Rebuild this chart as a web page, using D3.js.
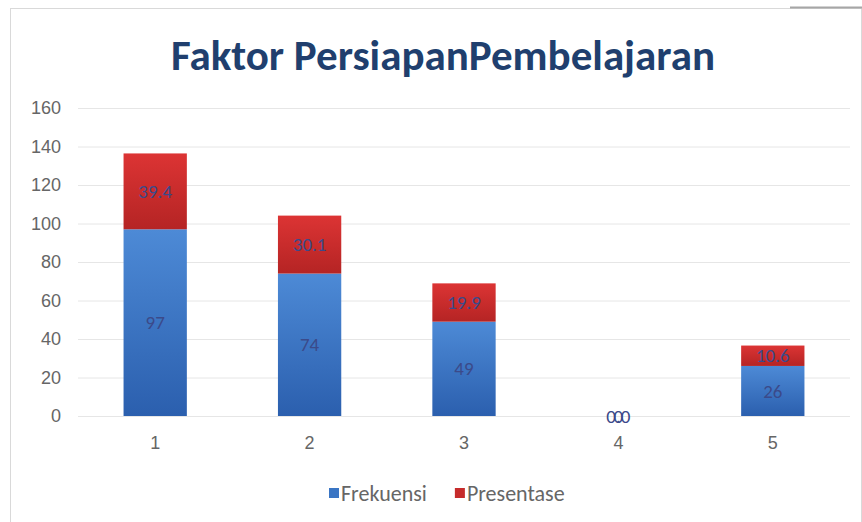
<!DOCTYPE html>
<html>
<head>
<meta charset="utf-8">
<script src="https://cdn.jsdelivr.net/npm/d3@7.9.0/dist/d3.min.js"></script>
<style>
  body { margin: 0; background: #fff; }
  svg { display: block; font-family: Carlito, Lato, "Open Sans", "Liberation Sans", sans-serif; }
</style>
</head>
<body>
<svg width="862" height="522"></svg>
<script>
// chart data
const categories = ['1', '2', '3', '4', '5'];
const frekuensi = [97, 74, 49, 0, 26];
const presentase = [39.4, 30.1, 19.9, 0.0, 10.6];
const yTicks = [0, 20, 40, 60, 80, 100, 120, 140, 160];
const seriesNames = ['Frekuensi', 'Presentase'];

const svg = d3.select('svg');
const margin = { top: 108, right: 12, bottom: 106, left: 78 };
const width = 862 - margin.left - margin.right;
const height = 522 - margin.top - margin.bottom;

// outer frame
svg.append('rect')
    .attr('x', 10.5).attr('y', 8.5)
    .attr('width', 851).attr('height', 520)
    .attr('fill', '#fff')
    .attr('stroke', '#d9d9d9');
// little shadow at top right corner
svg.append('line')
    .attr('x1', 790).attr('x2', 862).attr('y1', 7.5).attr('y2', 7.5)
    .attr('stroke', '#a6a6a6').attr('stroke-width', 2);

// gradients for bars
const defs = svg.append('defs');
function gradient(id, top, bottom) {
    const g = defs.append('linearGradient')
        .attr('id', id).attr('x1', 0).attr('y1', 0).attr('x2', 0).attr('y2', 1);
    g.append('stop').attr('offset', '0%').attr('stop-color', top);
    g.append('stop').attr('offset', '100%').attr('stop-color', bottom);
}
gradient('gBlue', '#4d8ad6', '#2b5fae');
gradient('gRed', '#dc3434', '#b52424');

const g = svg.append('g').attr('transform', `translate(${margin.left},${margin.top})`);

const x = d3.scaleBand().domain(categories).range([0, width]).paddingInner(0.59).paddingOuter(0.295);
const y = d3.scaleLinear().domain([0, 160]).range([height, 0]);

// gridlines
g.selectAll('.grid')
    .data(yTicks)
    .join('line')
    .attr('class', 'grid')
    .attr('x1', 0).attr('x2', width)
    .attr('y1', d => y(d) + 0.5).attr('y2', d => y(d) + 0.5)
    .attr('stroke', '#e6e6e6');

// y axis labels
const yAxis = d3.axisLeft(y).tickValues(yTicks).tickSize(0).tickPadding(17);
g.append('g').call(yAxis)
    .call(s => s.select('.domain').remove())
    .selectAll('text')
    .attr('fill', '#666')
    .style('font-family', 'inherit')
    .style('font-size', '18px');

// x axis labels
const xAxis = d3.axisBottom(x).tickSize(0).tickPadding(20);
g.append('g').attr('transform', `translate(0,${height})`).call(xAxis)
    .call(s => s.select('.domain').remove())
    .selectAll('text')
    .attr('fill', '#666')
    .style('font-family', 'inherit')
    .style('font-size', '18px');

// stacked data
const rows = categories.map((c, i) => ({ cat: c, Frekuensi: frekuensi[i], Presentase: presentase[i] }));
const stack = d3.stack().keys(seriesNames)(rows);
const fills = { Frekuensi: 'url(#gBlue)', Presentase: 'url(#gRed)' };

stack.forEach(layer => {
    g.selectAll(`.bar-${layer.key}`)
        .data(layer)
        .join('rect')
        .attr('class', `bar-${layer.key}`)
        .attr('x', d => x(d.data.cat))
        .attr('width', x.bandwidth())
        .attr('y', d => y(d[1]))
        .attr('height', d => y(d[0]) - y(d[1]))
        .attr('fill', fills[layer.key]);

    g.selectAll(`.lbl-${layer.key}`)
        .data(layer)
        .join('text')
        .attr('class', `lbl-${layer.key}`)
        .attr('x', d => x(d.data.cat) + x.bandwidth() / 2)
        .attr('y', d => (y(d[0]) + y(d[1])) / 2)
        .attr('dy', '0.35em')
        .attr('text-anchor', 'middle')
        .attr('fill', '#3b4a8a')
        .style('font-size', '19px')
        .text(d => layer.key === 'Presentase' ? d.data[layer.key].toFixed(1) : d.data[layer.key]);
});

// title
svg.append('text')
    .attr('x', 443).attr('y', 70)
    .attr('text-anchor', 'middle')
    .attr('fill', '#203f6e')
    .style('font-size', '43px')
    .style('font-weight', 'bold')
    .text('Faktor PersiapanPembelajaran');

// legend
const legend = svg.append('g').attr('transform', 'translate(329,493)');
const legendColors = ['#3a75c4', '#c62b2b'];
let lx = 0;
seriesNames.forEach((name, i) => {
    legend.append('rect').attr('x', lx).attr('y', -5).attr('width', 10).attr('height', 10).attr('fill', legendColors[i]);
    const t = legend.append('text')
        .attr('x', lx + 12).attr('y', 0).attr('dy', '0.35em')
        .attr('fill', '#666')
        .style('font-size', '22px')
        .text(name);
    lx += 12 + t.node().getComputedTextLength() + 28;
});
</script>
</body>
</html>
